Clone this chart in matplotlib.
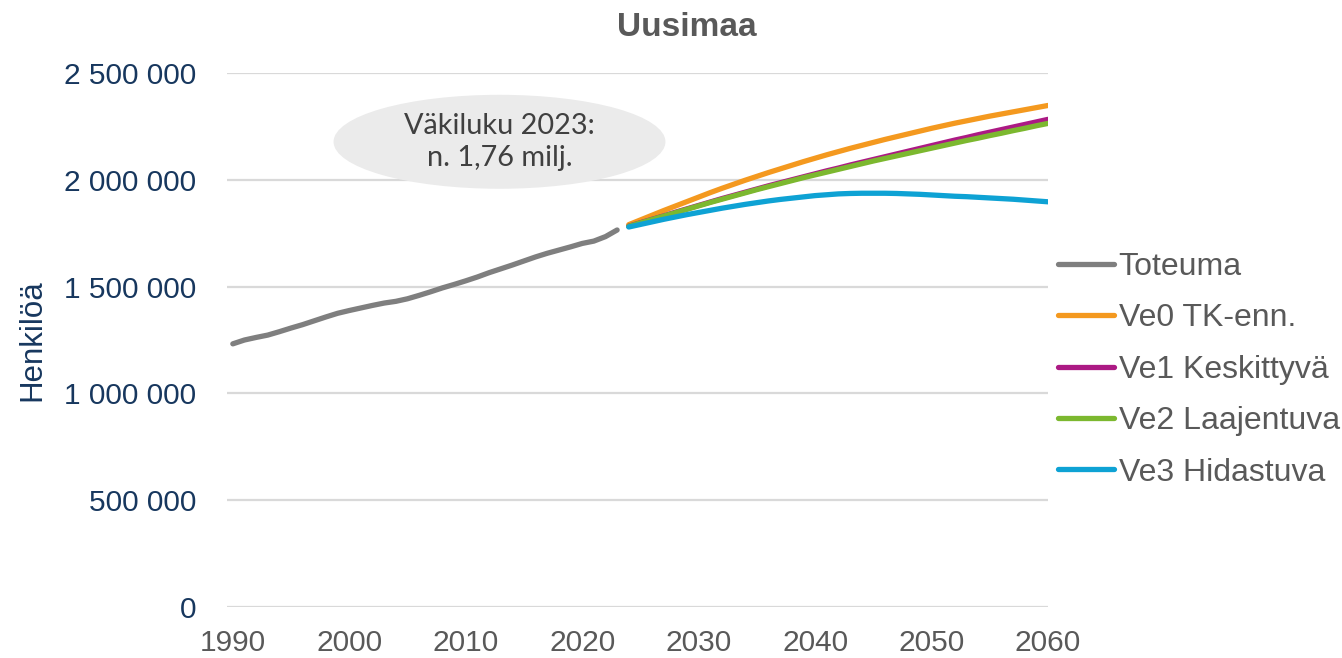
import matplotlib
matplotlib.use("Agg")
import matplotlib.pyplot as plt
from matplotlib.patches import Ellipse
from matplotlib.ticker import FuncFormatter, MultipleLocator

plt.rcParams['font.family'] = ['Liberation Sans', 'DejaVu Sans']

# historical population (Toteuma)
years_hist = list(range(1990, 2024))
toteuma = [1232000, 1250000, 1262000, 1273000, 1289000, 1306000, 1322000, 1340000,
           1358000, 1375000, 1388000, 1400000, 1412000, 1423000, 1431000, 1443000,
           1459000, 1476000, 1494000, 1510000, 1527000, 1545000, 1565000, 1583000,
           1601000, 1620000, 1639000, 1656000, 1671000, 1686000, 1702000, 1713000,
           1734000, 1765000]

# projections 2024-2060 (thousands)
years_proj = list(range(2024, 2061))
ve0 = [1790, 1812, 1834, 1856, 1877, 1898, 1919, 1940, 1960, 1979, 1998, 2016, 2034,
       2051, 2068, 2085, 2101, 2117, 2132, 2147, 2161, 2175, 2189, 2202, 2215, 2228,
       2241, 2253, 2265, 2276, 2287, 2298, 2308, 2318, 2328, 2338, 2348]
ve1 = [1783, 1799, 1815, 1831, 1848, 1864, 1880, 1896, 1912, 1927, 1942, 1957, 1972,
       1986, 2000, 2014, 2028, 2042, 2055, 2069, 2082, 2095, 2108, 2121, 2134, 2147,
       2160, 2173, 2186, 2198, 2211, 2223, 2235, 2247, 2259, 2271, 2283]
ve2 = [1782, 1798, 1814, 1830, 1846, 1862, 1878, 1894, 1909, 1924, 1939, 1954, 1968,
       1982, 1996, 2010, 2023, 2036, 2049, 2062, 2075, 2088, 2100, 2112, 2124, 2136,
       2148, 2160, 2172, 2184, 2195, 2207, 2218, 2230, 2241, 2253, 2264]
ve3 = [1779, 1791, 1803, 1815, 1826, 1837, 1847, 1857, 1867, 1876, 1885, 1893, 1901,
       1908, 1914, 1920, 1926, 1930, 1934, 1936, 1937, 1937, 1937, 1936, 1934, 1932,
       1929, 1926, 1923, 1921, 1918, 1915, 1912, 1909, 1905, 1901, 1897]

series = [
    ("Toteuma", years_hist, toteuma, 1, "#7f7f7f"),
    ("Ve0 TK-enn.", years_proj, ve0, 1000, "#f4991f"),
    ("Ve1 Keskittyvä", years_proj, ve1, 1000, "#ac1a84"),
    ("Ve2 Laajentuva", years_proj, ve2, 1000, "#7cb82f"),
    ("Ve3 Hidastuva", years_proj, ve3, 1000, "#0ea2d4"),
]

fig = plt.figure(figsize=(13.42, 6.58), dpi=100)
ax = fig.add_axes([227 / 1342, 1 - 607 / 658, (1048 - 227) / 1342, (607 - 73) / 658])

for label, xs, ys, mult, color in series:
    ax.plot(xs, [v * mult for v in ys], color=color, lw=3.8, label=label,
            solid_capstyle='round', solid_joinstyle='round')

ax.set_xlim(1989.5, 2060)
ax.set_ylim(0, 2500000)
ax.xaxis.set_major_locator(MultipleLocator(10))
ax.yaxis.set_major_locator(MultipleLocator(500000))
ax.yaxis.set_major_formatter(FuncFormatter(lambda v, p: f"{int(v):,}".replace(",", " ")))

ax.grid(axis='y', color='#d9d9d9', lw=1.6)
ax.set_axisbelow(True)
for s in ax.spines.values():
    s.set_visible(False)
ax.tick_params(axis='both', length=0, labelsize=21.5)
ax.tick_params(axis='y', pad=22, labelcolor='#17375e')
ax.tick_params(axis='x', pad=16, labelcolor='#595959')

ax.set_ylabel("Henkilöä", fontsize=22.5, color='#17375e', labelpad=12)
fig.text(687 / 1342, 1 - 28 / 658, "Uusimaa", fontsize=24, fontweight='bold',
         color='#595959', ha='center', va='center')

# annotation bubble
ell = Ellipse((2012.9, 2178000), 28.5, 440000, facecolor='#ebebeb', edgecolor='none',
              zorder=3)
ax.add_patch(ell)
ax.text(2012.9, 2178000, "Väkiluku 2023:\nn. 1,76 milj.", ha='center', va='center',
        fontsize=20.8, color='#404040', family=['Lato', 'DejaVu Sans'], zorder=4,
        linespacing=1.3)

leg = fig.legend(loc='upper left', bbox_to_anchor=(1058 / 1342, 1 - 252 / 658),
                 frameon=False, fontsize=23, handlelength=1.75, handletextpad=0.15,
                 labelspacing=0.67, borderaxespad=0, borderpad=0)
for t in leg.get_texts():
    t.set_color('#595959')

fig.savefig("out.png", dpi=100)
